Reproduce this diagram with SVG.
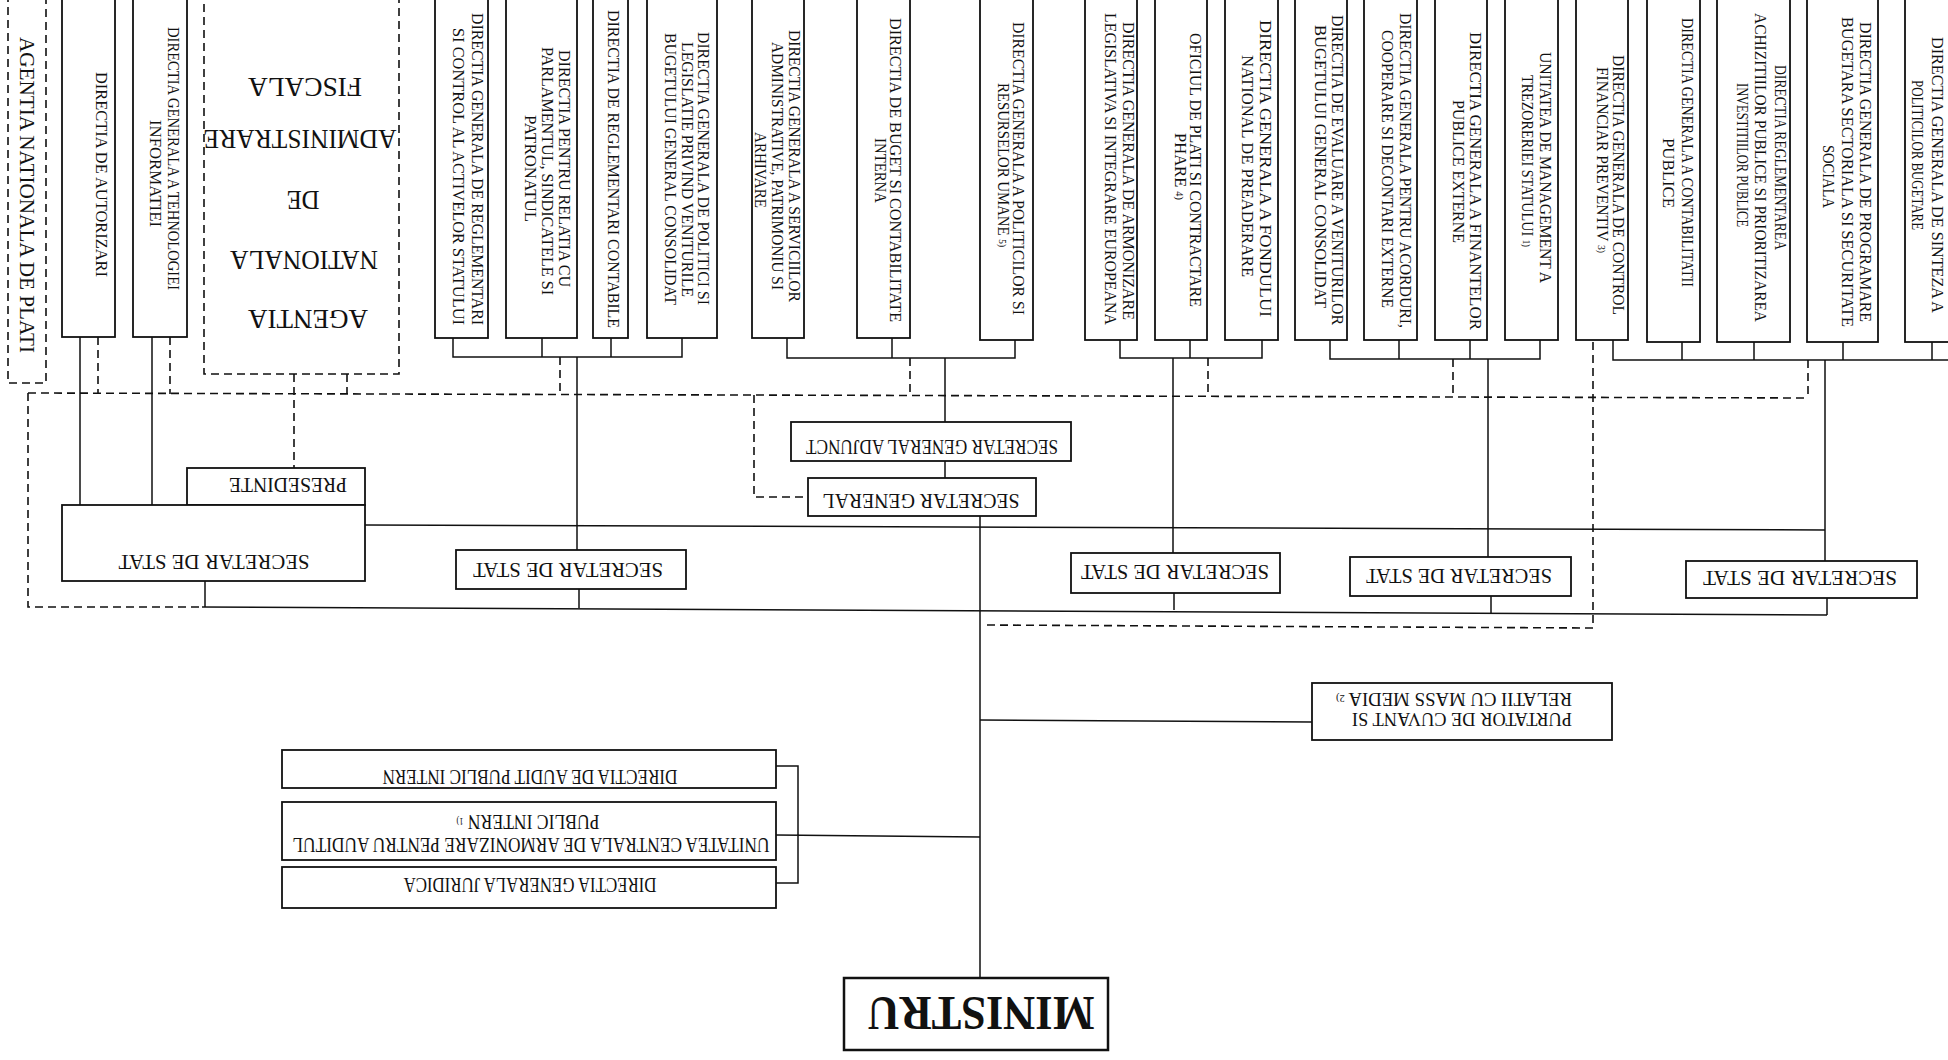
<svg xmlns="http://www.w3.org/2000/svg" width="1948" height="1060" viewBox="0 0 1948 1060">
<style>
.b{fill:#fff;stroke:#111;stroke-width:1.8}
.db{fill:none;stroke:#111;stroke-width:1.6;stroke-dasharray:8 5}
.l{fill:none;stroke:#111;stroke-width:1.5}
.d{fill:none;stroke:#111;stroke-width:1.6;stroke-dasharray:8 5}
.t{font-family:"Liberation Serif","Times New Roman",serif;font-size:16px;fill:#111;text-anchor:middle;dominant-baseline:central}
.h{font-size:21px}
.big{font-size:27px}
.sup{font-size:10px}
</style>
<rect width="1948" height="1060" fill="#fff"/>
<g id="connectors">
<path class="l" d="M80 337V505M152 337V505"/>
<path class="l" d="M453 338V357H682V338M542 338V357M611 338V357M577 357V550"/>
<path class="l" d="M787 338V358H1015V340M892 338V358M945 358V422"/>
<path class="l" d="M1120 340V358H1262V340M1190 340V358M1173 358V565"/>
<path class="l" d="M1330 340V359H1540V340M1399 340V359M1470 340V359M1488 359V557"/>
<path class="l" d="M1613 340V360H1948M1682 342V360M1754 342V360M1843 342V360M1932 342V360M1825 360V568"/>
<path class="l" d="M945 461V478M980 516V978"/>
<path class="l" d="M365 525L1825 530"/>
<path class="l" d="M205 581V607M579 589V608M1174 593V610M1491 596V613M1827 598V615"/>
<path class="l" d="M202 607L1827 615"/>
<path class="l" d="M776 766H798V883H776M776 835L980 837"/>
<path class="l" d="M980 720L1312 722"/>
<path class="d" d="M98 337V394M170 337V394"/>
<path class="d" d="M294 374V468M347 374V394"/>
<path class="d" d="M28 393L1808 398"/>
<path class="d" d="M28 393V607H202"/>
<path class="d" d="M560 357V394M910 358V395M1208 358V396M1453 359V397M1808 360V398"/>
<path class="d" d="M754 395V497H808"/>
<path class="d" d="M1593 342V628L982 625"/>
</g>
<g id="n-anplati">
<rect class="db" x="8" y="-5" width="38" height="388"/>
<text class="t" style="font-size:21px" transform="translate(27,195) rotate(90)" textLength="316" lengthAdjust="spacingAndGlyphs">AGENTIA NATIONALA DE PLATI</text>
</g>
<g id="n-autorizari">
<rect class="b" x="62" y="-5" width="53" height="342"/>
<text class="t" transform="translate(101,174.5) rotate(90)" textLength="205" lengthAdjust="spacingAndGlyphs">DIRECTIA DE AUTORIZARI</text>
</g>
<g id="n-tehnologiei">
<rect class="b" x="133" y="-5" width="54" height="342"/>
<text class="t" transform="translate(173,158.5) rotate(90)" textLength="263" lengthAdjust="spacingAndGlyphs">DIRECTIA GENERALA A TEHNOLOGIEI</text>
<text class="t" transform="translate(155,173.5) rotate(90)" textLength="107" lengthAdjust="spacingAndGlyphs">INFORMATIEI</text>
</g>
<g id="n-anaf">
<rect class="db" x="204" y="-5" width="195" height="379"/>
<text class="t big" transform="translate(305,87) rotate(180)" textLength="114" lengthAdjust="spacingAndGlyphs">FISCALA</text>
<text class="t big" transform="translate(300,139) rotate(180)" textLength="193" lengthAdjust="spacingAndGlyphs">ADMINISTRARE</text>
<text class="t big" transform="translate(303,200) rotate(180)" textLength="33" lengthAdjust="spacingAndGlyphs">DE</text>
<text class="t big" transform="translate(304,260) rotate(180)" textLength="148" lengthAdjust="spacingAndGlyphs">NATIONALA</text>
<text class="t big" transform="translate(308,319) rotate(180)" textLength="120" lengthAdjust="spacingAndGlyphs">AGENTIA</text>
</g>
<g id="n-reglementari-control">
<rect class="b" x="435" y="-5" width="53" height="343"/>
<text class="t" transform="translate(477,169) rotate(90)" textLength="312" lengthAdjust="spacingAndGlyphs">DIRECTIA GENERALA DE REGLEMENTARI</text>
<text class="t" transform="translate(458,176.5) rotate(90)" textLength="297" lengthAdjust="spacingAndGlyphs">SI CONTROL AL ACTIVELOR STATULUI</text>
</g>
<g id="n-parlament">
<rect class="b" x="506" y="-5" width="71" height="343"/>
<text class="t" transform="translate(564,168.5) rotate(90)" textLength="237" lengthAdjust="spacingAndGlyphs">DIRECTIA PENTRU RELATIA CU</text>
<text class="t" transform="translate(547,171) rotate(90)" textLength="248" lengthAdjust="spacingAndGlyphs">PARLAMENTUL, SINDICATELE SI</text>
<text class="t" transform="translate(530,168.5) rotate(90)" textLength="107" lengthAdjust="spacingAndGlyphs">PATRONATUL</text>
</g>
<g id="n-contabile">
<rect class="b" x="593" y="-5" width="35" height="343"/>
<text class="t" transform="translate(613,169) rotate(90)" textLength="318" lengthAdjust="spacingAndGlyphs">DIRECTIA DE REGLEMENTARI CONTABILE</text>
</g>
<g id="n-politici-venituri">
<rect class="b" x="647" y="-5" width="70" height="343"/>
<text class="t" transform="translate(703,168.5) rotate(90)" textLength="273" lengthAdjust="spacingAndGlyphs">DIRECTIA GENERALA DE POLITICI SI</text>
<text class="t" transform="translate(687,169.5) rotate(90)" textLength="255" lengthAdjust="spacingAndGlyphs">LEGISLATIE PRIVIND VENITURILE</text>
<text class="t" transform="translate(670,169) rotate(90)" textLength="272" lengthAdjust="spacingAndGlyphs">BUGETULUI GENERAL CONSOLIDAT</text>
</g>
<g id="n-servicii">
<rect class="b" x="752" y="-5" width="52" height="343"/>
<text class="t" transform="translate(794,166) rotate(90)" textLength="272" lengthAdjust="spacingAndGlyphs">DIRECTIA GENERALA A SERVICIILOR</text>
<text class="t" transform="translate(777,166) rotate(90)" textLength="248" lengthAdjust="spacingAndGlyphs">ADMINISTRATIVE, PATRIMONIU SI</text>
<text class="t" transform="translate(760,170) rotate(90)" textLength="76" lengthAdjust="spacingAndGlyphs">ARHIVARE</text>
</g>
<g id="n-buget-intern">
<rect class="b" x="857" y="-5" width="53" height="343"/>
<text class="t" transform="translate(895,170) rotate(90)" textLength="304" lengthAdjust="spacingAndGlyphs">DIRECTIA DE BUGET SI CONTABILITATE</text>
<text class="t" transform="translate(880,170.5) rotate(90)" textLength="65" lengthAdjust="spacingAndGlyphs">INTERNA</text>
</g>
<g id="n-resurse-umane">
<rect class="b" x="980" y="-5" width="53" height="345"/>
<text class="t" transform="translate(1018,168.5) rotate(90)" textLength="293" lengthAdjust="spacingAndGlyphs">DIRECTIA GENERALA A POLITICILOR SI</text>
<text class="t" transform="translate(1003,165) rotate(90)" textLength="164" lengthAdjust="spacingAndGlyphs">RESURSELOR UMANE <tspan class="sup">5)</tspan></text>
</g>
<g id="n-armonizare">
<rect class="b" x="1085" y="-5" width="52" height="345"/>
<text class="t" transform="translate(1128,171) rotate(90)" textLength="298" lengthAdjust="spacingAndGlyphs">DIRECTIA GENERALA DE ARMONIZARE</text>
<text class="t" transform="translate(1110,169) rotate(90)" textLength="312" lengthAdjust="spacingAndGlyphs">LEGISLATIVA SI INTEGRARE EUROPEANA</text>
</g>
<g id="n-phare">
<rect class="b" x="1155" y="-5" width="52" height="345"/>
<text class="t" transform="translate(1195,170) rotate(90)" textLength="274" lengthAdjust="spacingAndGlyphs">OFICIUL DE PLATI SI CONTRACTARE</text>
<text class="t" transform="translate(1180,166.5) rotate(90)" textLength="67" lengthAdjust="spacingAndGlyphs">PHARE <tspan class="sup">4)</tspan></text>
</g>
<g id="n-preaderare">
<rect class="b" x="1225" y="-5" width="53" height="345"/>
<text class="t" transform="translate(1265,168.5) rotate(90)" textLength="297" lengthAdjust="spacingAndGlyphs">DIRECTIA GENERALA A FONDULUI</text>
<text class="t" transform="translate(1247,166) rotate(90)" textLength="222" lengthAdjust="spacingAndGlyphs">NATIONAL DE PREADERARE</text>
</g>
<g id="n-evaluare">
<rect class="b" x="1295" y="-5" width="52" height="345"/>
<text class="t" transform="translate(1337,170) rotate(90)" textLength="310" lengthAdjust="spacingAndGlyphs">DIRECTIA DE EVALUARE A VENITURILOR</text>
<text class="t" transform="translate(1320,166.5) rotate(90)" textLength="283" lengthAdjust="spacingAndGlyphs">BUGETULUI GENERAL CONSOLIDAT</text>
</g>
<g id="n-acorduri">
<rect class="b" x="1364" y="-5" width="53" height="345"/>
<text class="t" transform="translate(1405,170.5) rotate(90)" textLength="315" lengthAdjust="spacingAndGlyphs">DIRECTIA GENERALA PENTRU ACORDURI,</text>
<text class="t" transform="translate(1387,169) rotate(90)" textLength="278" lengthAdjust="spacingAndGlyphs">COOPERARE SI DECONTARI EXTERNE</text>
</g>
<g id="n-finante-externe">
<rect class="b" x="1435" y="-5" width="52" height="345"/>
<text class="t" transform="translate(1475,181) rotate(90)" textLength="298" lengthAdjust="spacingAndGlyphs">DIRECTIA GENERALA A FINANTELOR</text>
<text class="t" transform="translate(1458,171.5) rotate(90)" textLength="143" lengthAdjust="spacingAndGlyphs">PUBLICE EXTERNE</text>
</g>
<g id="n-trezorerie">
<rect class="b" x="1505" y="-5" width="53" height="345"/>
<text class="t" transform="translate(1545,167.5) rotate(90)" textLength="231" lengthAdjust="spacingAndGlyphs">UNITATEA DE MANAGEMENT A</text>
<text class="t" transform="translate(1527,161) rotate(90)" textLength="172" lengthAdjust="spacingAndGlyphs">TREZORERIEI STATULUI <tspan class="sup">1)</tspan></text>
</g>
<g id="n-control-preventiv">
<rect class="b" x="1576" y="-5" width="52" height="345"/>
<text class="t" transform="translate(1618,185) rotate(90)" textLength="260" lengthAdjust="spacingAndGlyphs">DIRECTIA GENERALA DE CONTROL</text>
<text class="t" transform="translate(1602,160) rotate(90)" textLength="186" lengthAdjust="spacingAndGlyphs">FINANCIAR PREVENTIV <tspan class="sup">3)</tspan></text>
</g>
<g id="n-contabilitate-publica">
<rect class="b" x="1647" y="-5" width="53" height="347"/>
<text class="t" transform="translate(1687,152.5) rotate(90)" textLength="269" lengthAdjust="spacingAndGlyphs">DIRECTIA GENERALA A CONTABILITATII</text>
<text class="t" transform="translate(1668,173) rotate(90)" textLength="70" lengthAdjust="spacingAndGlyphs">PUBLICE</text>
</g>
<g id="n-achizitii">
<rect class="b" x="1717" y="-5" width="73" height="347"/>
<text class="t" transform="translate(1780,157.5) rotate(90)" textLength="185" lengthAdjust="spacingAndGlyphs">DIRECTIA REGLEMENTAREA</text>
<text class="t" transform="translate(1760,167.5) rotate(90)" textLength="309" lengthAdjust="spacingAndGlyphs">ACHIZITIILOR PUBLICE SI PRIORITIZAREA</text>
<text class="t" transform="translate(1742,155) rotate(90)" textLength="144" lengthAdjust="spacingAndGlyphs">INVESTITIILOR PUBLICE</text>
</g>
<g id="n-programare">
<rect class="b" x="1807" y="-5" width="71" height="347"/>
<text class="t" transform="translate(1865,172) rotate(90)" textLength="300" lengthAdjust="spacingAndGlyphs">DIRECTIA GENERALA DE PROGRAMARE</text>
<text class="t" transform="translate(1847,172) rotate(90)" textLength="310" lengthAdjust="spacingAndGlyphs">BUGETARA SECTORIALA SI SECURITATE</text>
<text class="t" transform="translate(1828,176.5) rotate(90)" textLength="63" lengthAdjust="spacingAndGlyphs">SOCIALA</text>
</g>
<g id="n-sinteza">
<rect class="b" x="1905" y="-5" width="60" height="347"/>
<text class="t" transform="translate(1937,175) rotate(90)" textLength="276" lengthAdjust="spacingAndGlyphs">DIRECTIA GENERALA DE SINTEZA A</text>
<text class="t" transform="translate(1917,155) rotate(90)" textLength="150" lengthAdjust="spacingAndGlyphs">POLITICILOR BUGETARE</text>
</g>
<g id="n-presedinte">
<rect class="b" x="187" y="468" width="178" height="37"/>
<text class="t h" transform="translate(288,485) rotate(180)" textLength="118" lengthAdjust="spacingAndGlyphs">PRESEDINTE</text>
</g>
<g id="n-sds1">
<rect class="b" x="62" y="505" width="303" height="76"/>
<text class="t h" transform="translate(214,562) rotate(180)" textLength="191" lengthAdjust="spacingAndGlyphs">SECRETAR DE STAT</text>
</g>
<g id="n-sds2">
<rect class="b" x="456" y="550" width="230" height="39"/>
<text class="t h" transform="translate(568,570) rotate(180)" textLength="190" lengthAdjust="spacingAndGlyphs">SECRETAR DE STAT</text>
</g>
<g id="n-sds3">
<rect class="b" x="1071" y="553" width="209" height="40"/>
<text class="t h" transform="translate(1175,572) rotate(180)" textLength="188" lengthAdjust="spacingAndGlyphs">SECRETAR DE STAT</text>
</g>
<g id="n-sds4">
<rect class="b" x="1350" y="557" width="221" height="39"/>
<text class="t h" transform="translate(1459,576) rotate(180)" textLength="186" lengthAdjust="spacingAndGlyphs">SECRETAR DE STAT</text>
</g>
<g id="n-sds5">
<rect class="b" x="1686" y="561" width="231" height="37"/>
<text class="t h" transform="translate(1800,578) rotate(180)" textLength="194" lengthAdjust="spacingAndGlyphs">SECRETAR DE STAT</text>
</g>
<g id="n-sga">
<rect class="b" x="791" y="422" width="280" height="39"/>
<text class="t h" transform="translate(932,447) rotate(180)" textLength="252" lengthAdjust="spacingAndGlyphs">SECRETAR GENERAL ADJUNCT</text>
</g>
<g id="n-sg">
<rect class="b" x="808" y="478" width="228" height="38"/>
<text class="t h" transform="translate(921,501) rotate(180)" textLength="197" lengthAdjust="spacingAndGlyphs">SECRETAR GENERAL</text>
</g>
<g id="n-audit">
<rect class="b" x="282" y="750" width="494" height="38"/>
<text class="t h" transform="translate(530,777) rotate(180)" textLength="295" lengthAdjust="spacingAndGlyphs">DIRECTIA DE AUDIT PUBLIC INTERN</text>
</g>
<g id="n-ucaapi">
<rect class="b" x="282" y="802" width="494" height="58"/>
<text class="t h" transform="translate(531,845) rotate(180)" textLength="477" lengthAdjust="spacingAndGlyphs">UNITATEA CENTRALA  DE ARMONIZARE PENTRU AUDITUL</text>
<text class="t h" transform="translate(528,822) rotate(180)" textLength="143" lengthAdjust="spacingAndGlyphs">PUBLIC INTERN <tspan class="sup">1)</tspan></text>
</g>
<g id="n-juridica">
<rect class="b" x="282" y="867" width="494" height="41"/>
<text class="t h" transform="translate(530,885) rotate(180)" textLength="253" lengthAdjust="spacingAndGlyphs">DIRECTIA GENERALA JURIDICA</text>
</g>
<g id="n-purtator">
<rect class="b" x="1312" y="683" width="300" height="57"/>
<text class="t" style="font-size:18px" transform="translate(1462,719) rotate(180)" textLength="220" lengthAdjust="spacingAndGlyphs">PURTATOR DE CUVANT SI</text>
<text class="t" style="font-size:18px" transform="translate(1454,699) rotate(180)" textLength="236" lengthAdjust="spacingAndGlyphs">RELATII CU MASS MEDIA <tspan class="sup">2)</tspan></text>
</g>
<g id="n-ministru">
<rect class="b" style="stroke-width:2.5" x="844" y="978" width="264" height="72"/>
<text class="t" style="font-size:48px;font-weight:bold" transform="translate(981,1013) rotate(180)" textLength="227" lengthAdjust="spacingAndGlyphs">MINISTRU</text>
</g>
</svg>
